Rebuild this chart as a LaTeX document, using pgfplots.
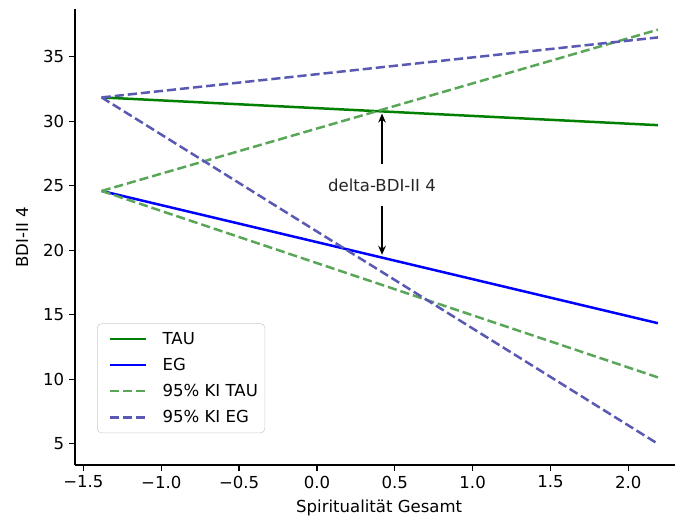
\documentclass[border=0pt]{standalone}
\usepackage{fontspec}
\setmainfont{DejaVu Sans}
\usepackage{pgfplots}
\pgfplotsset{compat=1.18}
\usetikzlibrary{arrows.meta}
\definecolor{tau}{RGB}{0,128,0}
\definecolor{eg}{RGB}{0,0,255}
\definecolor{kitau}{RGB}{89,166,89}
\definecolor{kieg}{RGB}{89,89,180}
\definecolor{legframe}{RGB}{204,204,204}
\newcommand{\fs}{\fontsize{11.9}{14}\selectfont}
\begin{document}
\begin{tikzpicture}
\begin{axis}[
  scale only axis,
  width=432pt, height=328pt,
  xmin=-1.555, xmax=2.30,
  ymin=3.35, ymax=38.67,
  axis lines=left,
  axis line style={-, line width=0.95pt},
  tick align=outside,
  major tick length=4.2pt,
  tick style={line width=0.95pt, black},
  xtick={-1.5,-1,-0.5,0,0.5,1,1.5,2},
  xticklabels={−1.5,−1.0,−0.5,0.0,0.5,1.0,1.5,2.0},
  ytick={5,10,15,20,25,30,35},
  yticklabels={5,10,15,20,25,30,35},
  tick label style={font=\fs},
  xlabel={Spiritualität Gesamt},
  ylabel={BDI-II 4},
  every axis x label/.style={at={(axis description cs:0.507,-0.094)}, anchor=center, font=\fs},
  every axis y label/.style={at={(axis description cs:-0.088,0.5)}, rotate=90, anchor=center, font=\fs},
  legend style={at={(axis description cs:0.037,0.07)}, anchor=south west,
    draw=legframe, rounded corners=3pt, fill=white, fill opacity=0.8, text opacity=1,
    font=\fs, inner xsep=3pt, inner ysep=4pt, row sep=4.5pt,
    cells={anchor=west}},
  legend image code/.code={\path[draw=none,fill=none] (-6pt,0pt) -- (36pt,0pt); \draw[#1, line width=1.8pt] (0pt,0pt) -- (26pt,0pt);},
  clip=false,
]
\addplot[color=tau, line width=1.8pt] coordinates {(-1.383,31.85) (2.19,29.7)};
\addlegendentry{TAU}
\addplot[color=eg, line width=1.8pt] coordinates {(-1.383,24.6) (2.19,14.35)};
\addlegendentry{EG}
\addplot[color=kitau, line width=1.8pt, dash pattern=on 6.6pt off 2.85pt] coordinates {(-1.383,24.6) (2.19,37.1)};
\addlegendentry{95\% KI TAU}
\addplot[color=kieg, line width=1.8pt, dash pattern=on 6.6pt off 2.85pt] coordinates {(-1.383,31.85) (2.19,36.5)};
\addlegendentry{95\% KI EG}
\addplot[color=kitau, line width=1.8pt, dash pattern=on 6.6pt off 2.85pt, forget plot] coordinates {(-1.383,24.6) (2.19,10.15)};
\addplot[color=kieg, line width=1.8pt, dash pattern=on 6.6pt off 2.85pt, forget plot] coordinates {(-1.383,31.85) (2.19,5.0)};
\draw[-{Stealth[length=6.5pt,width=5.5pt]}, line width=1.8pt, black] (axis cs:0.418,26.7) -- (axis cs:0.418,30.6);
\draw[-{Stealth[length=6.5pt,width=5.5pt]}, line width=1.8pt, black] (axis cs:0.418,23.45) -- (axis cs:0.418,19.65);
\node[font=\fs, text=black!85] at (axis cs:0.418,25.05) {delta-BDI-II 4};
\end{axis}
\pgfresetboundingbox
\path (0,0) ++(-53.9pt,-38.9pt) rectangle (432pt,334.8pt);
\end{tikzpicture}
\end{document}
